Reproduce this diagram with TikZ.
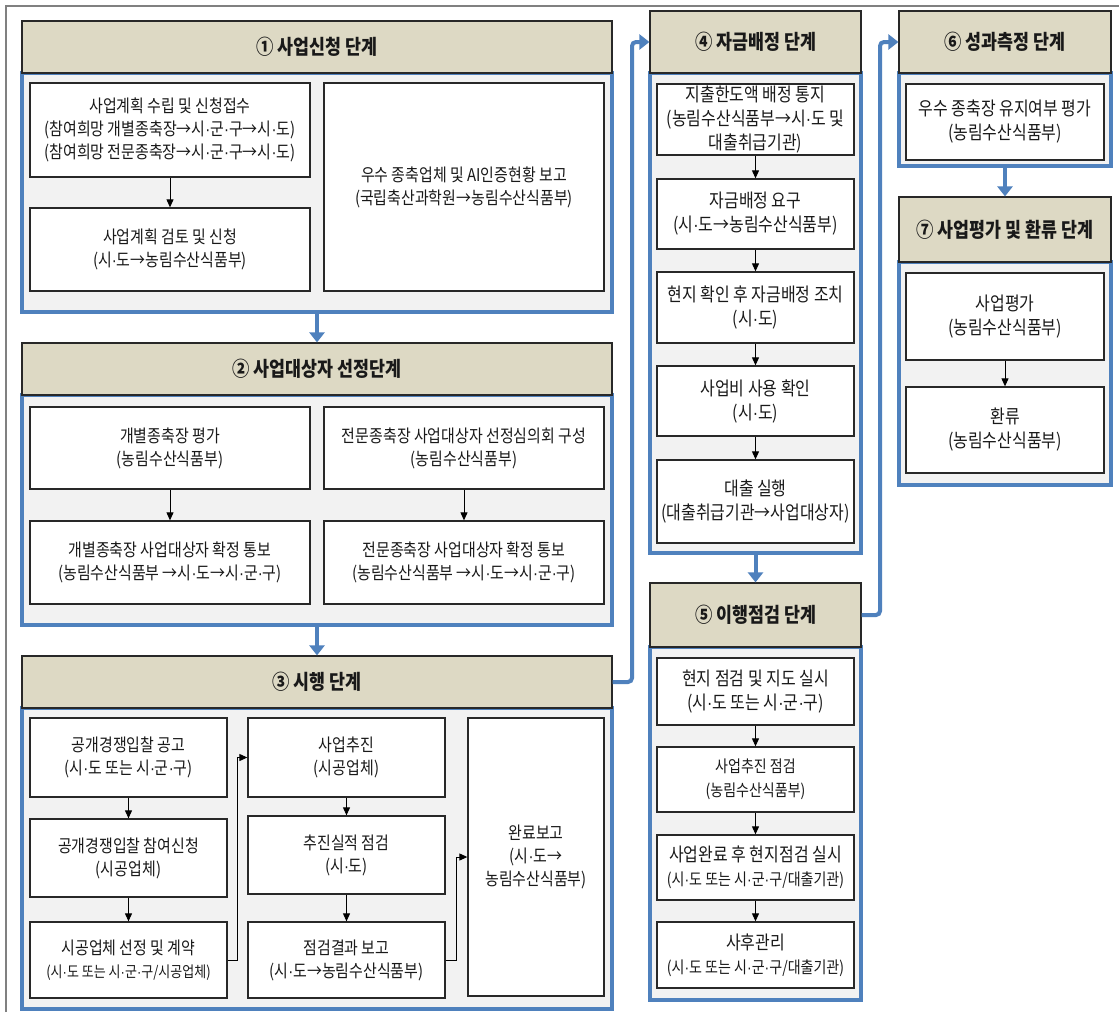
\documentclass[tikz,border=0pt]{standalone}
\usepackage{fontspec}
\setmainfont[FakeStretch=0.85]{Noto Sans CJK KR}
\newfontfamily\latinf[FakeStretch=0.85]{Liberation Sans}
\usetikzlibrary{arrows.meta}
\definecolor{bblue}{RGB}{79,129,189}
\definecolor{hdrfill}{RGB}{221,217,196}
\definecolor{contfill}{RGB}{242,242,242}
\definecolor{framegray}{RGB}{128,128,128}
\definecolor{boxline}{RGB}{40,40,40}
\definecolor{txt}{RGB}{25,25,25}
\newcommand{\md}{{\latinf ·}}
\newcommand{\bxfont}{\fontsize{17.6}{23}\selectfont}
\newcommand{\rbxfont}{\fontsize{18.8}{24}\selectfont}
\newcommand{\smfont}{\fontsize{16.5}{23}\selectfont}
\newcommand{\tnfont}{\fontsize{15.3}{23}\selectfont}
\newcommand{\hdfont}{\fontsize{20.4}{22}\selectfont\bfseries}
\newcommand{\mkrect}[7]{%
  \node[#1, minimum width={(#5-#3)*1pt}, minimum height={(#6-#4)*1pt}] (#2) at ({(#3+#5)/2},{(#4+#6)/2}) {#7};}
\tikzset{
  hdr/.style={draw=boxline, fill=hdrfill, line width=1.2pt, font=\hdfont, text=txt, inner sep=0pt},
  cont/.style={draw=bblue, fill=contfill, line width=3.5pt, inner sep=0pt},
  box/.style={draw=boxline, fill=white, line width=1.3pt, align=center, font=\bxfont, text=txt, inner sep=0pt},
  rbox/.style={box, font=\rbxfont},
  flow/.style={-{Triangle[length=8pt,width=7pt]}, line width=1pt, black},
  bflow/.style={bblue, line width=4pt, -{Triangle[length=10pt,width=15pt]}},
}
\begin{document}
\begin{tikzpicture}[x=1pt,y=-1pt]
\useasboundingbox (0,0) rectangle (1119,1012);
\fill[white] (0,0) rectangle (1119,1012);
\draw[framegray, line width=1.5pt] (6,1012) -- (6,6) -- (1119,6);

% ---------- Stage 1
\mkrect{cont}{c1}{22}{73}{612}{312}{}
\mkrect{hdr}{h1}{22}{21}{612}{73}{① 사업신청 단계}
\mkrect{box}{b11}{30}{83}{310}{177}{사업계획 수립 및 신청접수\\(참여희망 개별종축장→시\md{}군\md{}구→시\md{}도)\\(참여희망 전문종축장→시\md{}군\md{}구→시\md{}도)}
\mkrect{box}{b12}{30}{208}{310}{291}{사업계획 검토 및 신청\\(시\md{}도→농림수산식품부)}
\mkrect{box}{b13}{324}{83}{604}{291}{우수 종축업체 및 AI인증현황 보고\\(국립축산과학원→농림수산식품부)}
\draw[flow] (b11) -- (b12);

% ---------- Stage 2
\mkrect{cont}{c2}{22}{395}{612}{625}{}
\mkrect{hdr}{h2}{22}{343}{612}{395}{② 사업대상자 선정단계}
\mkrect{box}{b21}{30}{407}{310}{489}{개별종축장 평가\\(농림수산식품부)}
\mkrect{box}{b22}{324}{407}{604}{489}{전문종축장 사업대상자 선정심의회 구성\\(농림수산식품부)}
\mkrect{box}{b23}{30}{521}{310}{604}{개별종축장 사업대상자 확정 통보\\(농림수산식품부 →시\md{}도→시\md{}군\md{}구)}
\mkrect{box}{b24}{324}{521}{604}{604}{전문종축장 사업대상자 확정 통보\\(농림수산식품부 →시\md{}도→시\md{}군\md{}구)}
\draw[flow] (b21) -- (b23);
\draw[flow] (b22) -- (b24);
\draw[bflow] (c1.south) -- (h2.north);

% ---------- Stage 3
\mkrect{cont}{c3}{22}{708}{612}{1009}{}
\mkrect{hdr}{h3}{22}{656}{612}{708}{③ 시행 단계}
\mkrect{box}{b31}{30}{718}{227}{797}{공개경쟁입찰 공고\\(시\md{}도 또는 시\md{}군\md{}구)}
\mkrect{box}{b32}{30}{819}{227}{897}{공개경쟁입찰 참여신청\\(시공업체)}
\mkrect{box}{b33}{30}{922}{227}{998}{시공업체 선정 및 계약\\{\tnfont(시\md{}도 또는 시\md{}군\md{}구/시공업체)}}
\mkrect{box}{b34}{248}{718}{445}{797}{사업추진\\(시공업체)}
\mkrect{box}{b35}{248}{816}{445}{894}{추진실적 점검\\(시\md{}도)}
\mkrect{box}{b36}{248}{922}{445}{998}{점검결과 보고\\(시\md{}도→농림수산식품부)}
\mkrect{box}{b37}{468}{718}{604}{996}{완료보고\\(시\md{}도→\\농림수산식품부)}
\draw[flow] (b31) -- (b32);
\draw[flow] (b32) -- (b33);
\draw[flow] (b34) -- (b35);
\draw[flow] (b35) -- (b36);
\coordinate (k31) at (237,960);
\coordinate (k32) at (456,960);
\draw[flow] (b33.east) -- (k31) |- (b34.west);
\draw[flow] (b36.east) -- (k32) |- (b37.west);
\draw[bflow] (c2.south) -- (h3.north);

% ---------- Stage 4
\mkrect{cont}{c4}{650}{73}{861}{553}{}
\mkrect{hdr}{h4}{650}{11}{861}{73}{④ 자금배정 단계}
\mkrect{rbox}{b41}{657}{84}{854}{155}{지출한도액 배정 통지\\(농림수산식품부→시\md{}도 및\\대출취급기관)}
\mkrect{rbox}{b42}{657}{179}{854}{249}{자금배정 요구\\(시\md{}도→농림수산식품부)}
\mkrect{rbox}{b43}{657}{272}{854}{343}{현지 확인 후 자금배정 조치\\(시\md{}도)}
\mkrect{rbox}{b44}{657}{366}{854}{436}{사업비 사용 확인\\(시\md{}도)}
\mkrect{rbox}{b45}{657}{460}{854}{543}{대출 실행\\(대출취급기관→사업대상자)}
\draw[flow] (b41) -- (b42);
\draw[flow] (b42) -- (b43);
\draw[flow] (b43) -- (b44);
\draw[flow] (b44) -- (b45);

% ---------- Stage 5
\mkrect{cont}{c5}{650}{647}{861}{1000}{}
\mkrect{hdr}{h5}{650}{583}{861}{647}{⑤ 이행점검 단계}
\mkrect{rbox}{b51}{657}{658}{854}{725}{현지 점검 및 지도 실시\\(시\md{}도 또는 시\md{}군\md{}구)}
\mkrect{rbox}{b52}{657}{747}{854}{812}{\smfont 사업추진 점검\\\smfont(농림수산식품부)}
\mkrect{rbox}{b53}{657}{835}{854}{900}{사업완료 후 현지점검 실시\\{\smfont(시\md{}도 또는 시\md{}군\md{}구/대출기관)}}
\mkrect{rbox}{b54}{657}{922}{854}{988}{사후관리\\{\smfont(시\md{}도 또는 시\md{}군\md{}구/대출기관)}}
\draw[flow] (b51) -- (b52);
\draw[flow] (b52) -- (b53);
\draw[flow] (b53) -- (b54);
\draw[bflow] (c4.south) -- (h5.north);

% ---------- Stage 6
\mkrect{cont}{c6}{899}{73}{1111}{166}{}
\mkrect{hdr}{h6}{899}{11}{1111}{73}{⑥ 성과측정 단계}
\mkrect{rbox}{b61}{906}{84}{1104}{160}{우수 종축장 유지여부 평가\\(농림수산식품부)}

% ---------- Stage 7
\mkrect{cont}{c7}{899}{262}{1111}{485}{}
\mkrect{hdr}{h7}{899}{197}{1111}{262}{⑦ 사업평가 및 환류 단계}
\mkrect{rbox}{b71}{906}{273}{1104}{360}{사업평가\\(농림수산식품부)}
\mkrect{rbox}{b72}{906}{387}{1104}{473}{환류\\(농림수산식품부)}
\draw[flow] (b71) -- (b72);
\draw[bflow] (c6.south) -- (h7.north);

% ---------- stage-to-stage connectors
\coordinate (k34) at (632,42);
\coordinate (k56) at (880,42);
\draw[bflow, rounded corners=4pt] (h3.east) -| (k34) -- (h4.west);
\draw[bflow, rounded corners=4pt] (h5.east) -| (k56) -- (h6.west);
\end{tikzpicture}
\end{document}
